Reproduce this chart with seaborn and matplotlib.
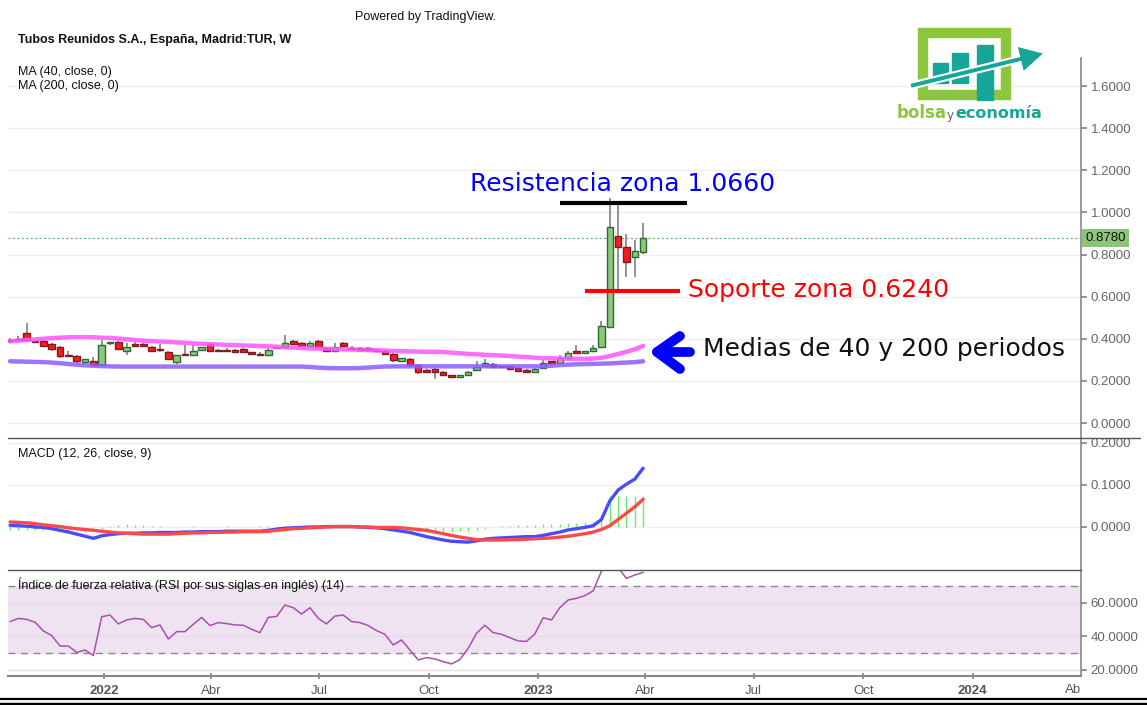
import numpy as np
import pandas as pd
import matplotlib
matplotlib.use("Agg")
import matplotlib.pyplot as plt
from matplotlib.lines import Line2D
from matplotlib.patches import Rectangle, FancyArrow
from matplotlib.ticker import FormatStrFormatter
import seaborn as sns

# weekly candles, Tubos Reunidos (TUR)
weeks = pd.date_range("2021-10-14", periods=77, freq="7D")

opens = [.388, .393, .427, .391, .388, .375, .361, .321, .320, .290, .296, .277, .378, .385, .340, .375,
         .375, .361, .351, .337, .290, .329, .324, .347, .375, .348, .348, .345, .351, .336, .329, .324,
         .355, .361, .391, .380, .364, .391, .356, .340, .380, .356, .356, .356, .341, .340, .328, .293,
         .305, .277, .253, .256, .242, .226, .218, .226, .253, .269, .280, .267, .269, .261, .253, .240,
         .261, .293, .285, .309, .340, .331, .340, .359, .457, .889, .834, .787, .813]
highs = [.405, .415, .475, .395, .390, .380, .365, .342, .325, .306, .313, .396, .386, .388, .381, .385,
         .380, .364, .375, .342, .323, .370, .370, .362, .378, .352, .356, .349, .354, .339, .335, .358,
         .361, .416, .395, .383, .390, .393, .362, .378, .383, .365, .362, .360, .345, .345, .330, .311,
         .307, .280, .258, .260, .245, .229, .229, .245, .296, .305, .284, .270, .272, .264, .256, .261,
         .298, .296, .325, .340, .372, .343, .372, .483, 1.067, 1.043, .897, .869, .951]
lows = [.380, .388, .392, .382, .362, .342, .310, .315, .285, .288, .272, .275, .372, .350, .323, .365,
        .365, .340, .335, .300, .280, .320, .322, .345, .338, .336, .338, .333, .333, .326, .318, .322,
        .352, .358, .370, .362, .360, .357, .337, .336, .365, .349, .346, .346, .337, .325, .290, .290,
        .275, .232, .240, .209, .226, .216, .216, .222, .250, .266, .262, .262, .256, .243, .238, .238,
        .258, .283, .283, .306, .329, .329, .338, .356, .455, .632, .695, .695, .802]
closes = [.393, .396, .396, .385, .364, .353, .317, .317, .293, .304, .277, .372, .383, .353, .359, .367,
          .367, .342, .347, .305, .321, .324, .343, .359, .340, .340, .340, .336, .336, .328, .321, .348,
          .357, .380, .377, .367, .380, .359, .340, .359, .367, .351, .348, .348, .340, .328, .298, .309,
          .277, .242, .242, .242, .229, .218, .226, .242, .264, .285, .264, .265, .258, .245, .240, .258,
          .285, .285, .309, .332, .331, .340, .356, .462, .929, .834, .763, .818, .878]

ma40 = [.388, .391, .394, .397, .400, .403, .405, .407, .408, .408, .407, .405, .404, .401, .397, .394,
        .391, .389, .387, .385, .383, .381, .378, .376, .374, .373, .371, .370, .368, .367, .365, .364,
        .362, .360, .358, .356, .354, .353, .352, .351, .350, .349, .348, .346, .345, .344, .342, .341,
        .340, .339, .338, .338, .337, .334, .331, .328, .326, .324, .322, .320, .318, .315, .313, .310,
        .308, .307, .306, .305, .305, .305, .306, .310, .318, .328, .338, .350, .366]
ma200 = [.293, .292, .291, .290, .289, .287, .284, .280, .277, .274, .272, .270, .269, .268, .268, .268,
         .268, .268, .268, .268, .268, .268, .268, .268, .268, .268, .268, .268, .268, .268, .268, .268,
         .268, .268, .268, .268, .266, .263, .261, .260, .260, .260, .261, .263, .266, .268, .269, .269,
         .269, .269, .269, .269, .269, .269, .269, .269, .269, .269, .269, .269, .269, .269, .269, .269,
         .269, .272, .275, .277, .279, .280, .281, .282, .283, .285, .287, .289, .293]

macd = [.004, .003, .002, .000, -.001, -.004, -.008, -.012, -.017, -.022, -.027, -.021, -.018, -.016,
        -.015, -.015, -.014, -.014, -.013, -.013, -.013, -.012, -.012, -.011, -.011, -.011, -.010, -.010,
        -.010, -.010, -.010, -.008, -.005, -.003, -.002, -.001, .000, .000, .001, .001, .001, .001, .000,
        -.001, -.002, -.004, -.007, -.010, -.013, -.018, -.023, -.027, -.031, -.034, -.035, -.036, -.033,
        -.029, -.027, -.026, -.025, -.024, -.023, -.023, -.020, -.016, -.012, -.007, -.004, -.001, .003,
        .018, .062, .088, .102, .114, .140]
signal = [.012, .011, .010, .008, .005, .003, .001, -.002, -.004, -.006, -.008, -.010, -.012, -.014,
          -.015, -.016, -.017, -.017, -.017, -.017, -.016, -.015, -.014, -.014, -.013, -.013, -.012, -.012,
          -.011, -.011, -.011, -.010, -.008, -.006, -.004, -.003, -.002, -.001, .000, .001, .001, .001,
          .000, .000, -.001, -.001, -.001, -.002, -.004, -.006, -.008, -.012, -.016, -.020, -.024, -.027,
          -.030, -.031, -.031, -.031, -.030, -.030, -.029, -.028, -.027, -.026, -.024, -.022, -.019, -.016,
          -.012, -.006, .003, .018, .033, .048, .066]
hist = [-.006, -.006, -.007, -.007, -.006, -.007, -.008, -.009, -.010, -.012, -.010, -.004, .003, .004,
        .007, .005, .004, .003, .002, .001, .001, .000, .002, .001, .001, .001, .002, .000, .000, .000,
        .002, .003, .003, .003, .004, .003, .002, .002, .002, .001, .001, .001, .000, -.001, -.002, -.003,
        -.005, -.006, -.008, -.010, -.011, -.012, -.012, -.011, -.010, -.009, -.007, -.004, -.001, .002,
        .003, .004, .005, .005, .006, .007, .008, .009, .010, .011, .012, .017, .074, .074, .074, .074,
        .074]

rsi = [48.9, 50.8, 50.2, 48.5, 43.3, 40.5, 34.3, 34.3, 30.5, 31.9, 28.6, 51.8, 52.8, 47.5, 49.9, 50.8,
       50.2, 45.3, 46.9, 38.5, 42.9, 42.9, 47.3, 51.4, 46.5, 48.3, 47.7, 46.9, 46.7, 44.3, 42.3, 51.4,
       52.0, 58.8, 57.2, 53.4, 57.2, 50.8, 47.5, 52.2, 52.8, 48.9, 48.3, 46.5, 43.5, 41.3, 34.9, 37.9,
       31.9, 26.0, 27.4, 26.6, 25.0, 23.6, 26.2, 32.9, 41.9, 46.7, 42.3, 41.3, 39.3, 37.3, 37.1, 41.5,
       51.2, 49.9, 57.2, 61.8, 62.8, 64.4, 67.2, 79.0, 88.0, 81.0, 74.7, 76.7, 78.3]

last_price = 0.878
resistance = 1.0660
support = 0.6240

price_ticks = [0.0, 0.2, 0.4, 0.6, 0.8, 1.0, 1.2, 1.4, 1.6]
macd_ticks = [0.0, 0.1, 0.2]
rsi_ticks = [20, 40, 60]
x_tick_dates = pd.to_datetime(["2022-01-01", "2022-04-01", "2022-07-01", "2022-10-01", "2023-01-01",
                               "2023-04-01", "2023-07-01", "2023-10-01", "2024-01-01"])
x_tick_labels = ["2022", "Abr", "Jul", "Oct", "2023", "Abr", "Jul", "Oct", "2024"]

W, H = 1147, 705


def fx(px):
    return px / W


def fy(py):
    return 1 - py / H


sns.set_theme(style="white")
plt.rcParams["font.family"] = ["Liberation Sans", "DejaVu Sans"]

fig = plt.figure(figsize=(W / 100, H / 100), dpi=100)
left, right = 8, 1081
ax_p = fig.add_axes([fx(left), fy(438), fx(right - left), (438 - 58) / H])
ax_m = fig.add_axes([fx(left), fy(570), fx(right - left), (570 - 438) / H], sharex=ax_p)
ax_r = fig.add_axes([fx(left), fy(676), fx(right - left), (676 - 570) / H], sharex=ax_p)

df = pd.DataFrame({"week": weeks, "open": opens, "high": highs, "low": lows, "close": closes,
                   "ma40": ma40, "ma200": ma200, "macd": macd, "signal": signal, "hist": hist, "rsi": rsi})

# ---- price panel
o = df["open"].to_numpy()
c = df["close"].to_numpy()
up = c >= o
ax_p.vlines(df["week"], df["low"], df["high"], color="#808080", lw=1.2, zorder=2)
ax_p.bar(df["week"], np.maximum(np.abs(c - o), 0.005), bottom=np.minimum(o, c), width=5.5,
         color=np.where(up, "#8cc87c", "#ff1a1a"), edgecolor=np.where(up, "#2d6a33", "#7a1f1f"),
         lw=1, zorder=3)
sns.lineplot(data=df, x="week", y="ma200", ax=ax_p, color="#8c5cff", lw=3.2, alpha=0.85, zorder=4)
sns.lineplot(data=df, x="week", y="ma40", ax=ax_p, color="#ff55ff", lw=3.2, alpha=0.85, zorder=4)
ax_p.axhline(last_price, color="#5cb85c", lw=0.8, ls=(0, (2, 2)), zorder=1)

ax_p.set_ylim(-0.0712, 1.733)
ax_p.set_yticks(price_ticks)

# drawn annotations
ax_p.hlines(1.046, pd.Timestamp("2023-01-19"), pd.Timestamp("2023-05-06"), color="black", lw=3, zorder=5)
ax_p.hlines(0.627, pd.Timestamp("2023-02-09"), pd.Timestamp("2023-04-30"), color="#ff0000", lw=3, zorder=5)
fig.text(fx(623), fy(184), f"Resistencia zona {resistance:.4f}", color="#0000ff", fontsize=18,
         family="DejaVu Sans", ha="center", va="center")
fig.text(fx(688), fy(290), f"Soporte zona {support:.4f}", color="#ff0000", fontsize=18,
         family="DejaVu Sans", ha="left", va="center")
fig.text(fx(703), fy(349), "Medias de 40 y 200 periodos", color="#111111", fontsize=18,
         family="DejaVu Sans", ha="left", va="center")
for xs, ys in [([680, 657, 680], [336, 352, 369]), ([657, 690], [352, 352])]:
    fig.add_artist(Line2D([fx(v) for v in xs], [fy(v) for v in ys], transform=fig.transFigure,
                          color="#0000ff", lw=7, solid_capstyle="round", solid_joinstyle="round"))

ax_p.annotate(f"{last_price:.4f}", xy=(1, last_price), xycoords=("axes fraction", "data"),
              xytext=(3, 0), textcoords="offset points", va="center", ha="left", fontsize=9.5,
              color="#111111", bbox=dict(boxstyle="square,pad=0.25", fc="#8cc47c", ec="none"),
              annotation_clip=False)

# ---- MACD panel
ax_m.vlines(df["week"], 0, df["hist"], color="#66ee66", lw=1, zorder=2)
sns.lineplot(data=df, x="week", y="macd", ax=ax_m, color="#4a4aff", lw=2.4, zorder=3)
sns.lineplot(data=df, x="week", y="signal", ax=ax_m, color="#ff4848", lw=2.4, zorder=3)
ax_m.set_ylim(-0.1024, 0.2119)
ax_m.set_yticks(macd_ticks)

# ---- RSI panel
ax_r.axhspan(30, 70, color="#efe3f1", zorder=0)
for lvl in (30, 70):
    ax_r.axhline(lvl, color="#8a8a8a", lw=1, ls=(0, (5, 4)), zorder=1)
sns.lineplot(data=df, x="week", y="rsi", ax=ax_r, color="#aa4fb0", lw=1.1, zorder=3)
ax_r.set_ylim(16.4, 79.7)
ax_r.set_yticks(rsi_ticks)

for a in (ax_p, ax_m, ax_r):
    a.set_facecolor("white")
    a.yaxis.tick_right()
    a.yaxis.set_major_formatter(FormatStrFormatter("%.4f"))
    a.tick_params(axis="y", right=True, length=4, color="#888888", labelcolor="#666666",
                  labelsize=9.5, pad=3, direction="out")
    a.grid(axis="y", color="#efefef", lw=1)
    a.grid(axis="x", visible=False)
    a.set_xlabel("")
    a.set_ylabel("")
    for s in ("left", "top", "bottom"):
        a.spines[s].set_visible(False)
    a.spines["right"].set_color("#888888")
    a.spines["right"].set_linewidth(1.2)
    a.set_axisbelow(True)

ax_r.grid(axis="y", color="#e6dbe8", lw=1)
ax_p.tick_params(axis="x", bottom=False, labelbottom=False)
ax_m.tick_params(axis="x", bottom=False, labelbottom=False)
ax_r.set_xlim(pd.Timestamp("2021-10-12 06:00"), pd.Timestamp("2024-04-01"))
ax_r.set_xticks(x_tick_dates)
ax_r.set_xticklabels(x_tick_labels)
ax_r.spines["bottom"].set_visible(True)
ax_r.spines["bottom"].set_color("#888888")
ax_r.spines["bottom"].set_linewidth(1.5)
ax_r.tick_params(axis="x", bottom=True, length=5, color="#888888", labelcolor="#555555",
                 labelsize=9.5, pad=4, direction="inout")
for lab in ax_r.get_xticklabels():
    if lab.get_text().isdigit():
        lab.set_fontweight("bold")
fig.text(fx(1081), fy(690), "Ab", ha="right", va="center", fontsize=9.5, color="#555555")

# panel separators and frame
fig.add_artist(Line2D([fx(8), fx(1140)], [fy(438), fy(438)], transform=fig.transFigure, color="#555555", lw=1))
fig.add_artist(Line2D([fx(8), fx(1081)], [fy(570), fy(570)], transform=fig.transFigure, color="#555555", lw=1))
fig.add_artist(Line2D([0, 1], [fy(699), fy(699)], transform=fig.transFigure, color="black", lw=1.6))
fig.add_artist(Line2D([0, 1], [fy(704), fy(704)], transform=fig.transFigure, color="black", lw=2.5))

# header texts
fig.text(fx(355), fy(17), "Powered by TradingView.", fontsize=9, color="#111111", va="center")
fig.text(fx(18), fy(40), "Tubos Reunidos S.A., España, Madrid:TUR, W", fontsize=9, fontweight="bold",
         color="#111111", va="center")
fig.text(fx(18), fy(72), "MA (40, close, 0)", fontsize=9, color="#111111", va="center")
fig.text(fx(18), fy(86), "MA (200, close, 0)", fontsize=9, color="#111111", va="center")
fig.text(fx(18), fy(454), "MACD (12, 26, close, 9)", fontsize=9, color="#111111", va="center")
fig.text(fx(18), fy(585), "Índice de fuerza relativa (RSI por sus siglas en inglés) (14)", fontsize=9,
         color="#111111", va="center")

# logo
lg = fig.add_axes([fx(895), fy(125), fx(152), (125 - 22) / H])
lg.set_xlim(895, 1047)
lg.set_ylim(125, 22)
lg.axis("off")
lg.add_patch(Rectangle((923, 33), 83, 62, fill=False, ec="#8cc63f", lw=7.5))
for bx, by, bw, bh in [(933, 63, 15, 20), (952, 53, 16, 30), (977, 45, 16, 55)]:
    lg.add_patch(Rectangle((bx, by), bw, bh, color="#17a597"))
lg.add_patch(FancyArrow(910, 86, 135, -33, width=6, head_width=28, head_length=26,
                        length_includes_head=True, fc="#17a597", ec="white", lw=1.5))
lg.text(897, 113, "bolsa", color="#8cc63f", fontsize=12, fontweight="bold", family="DejaVu Sans",
        va="center", ha="left")
lg.text(947, 116, "y", color="#666666", fontsize=8.5, family="DejaVu Sans", va="center", ha="left")
lg.text(955, 113, "economía", color="#17a597", fontsize=11.5, fontweight="bold", family="DejaVu Sans",
        va="center", ha="left")

fig.savefig("out.png", dpi=100, facecolor="white")
